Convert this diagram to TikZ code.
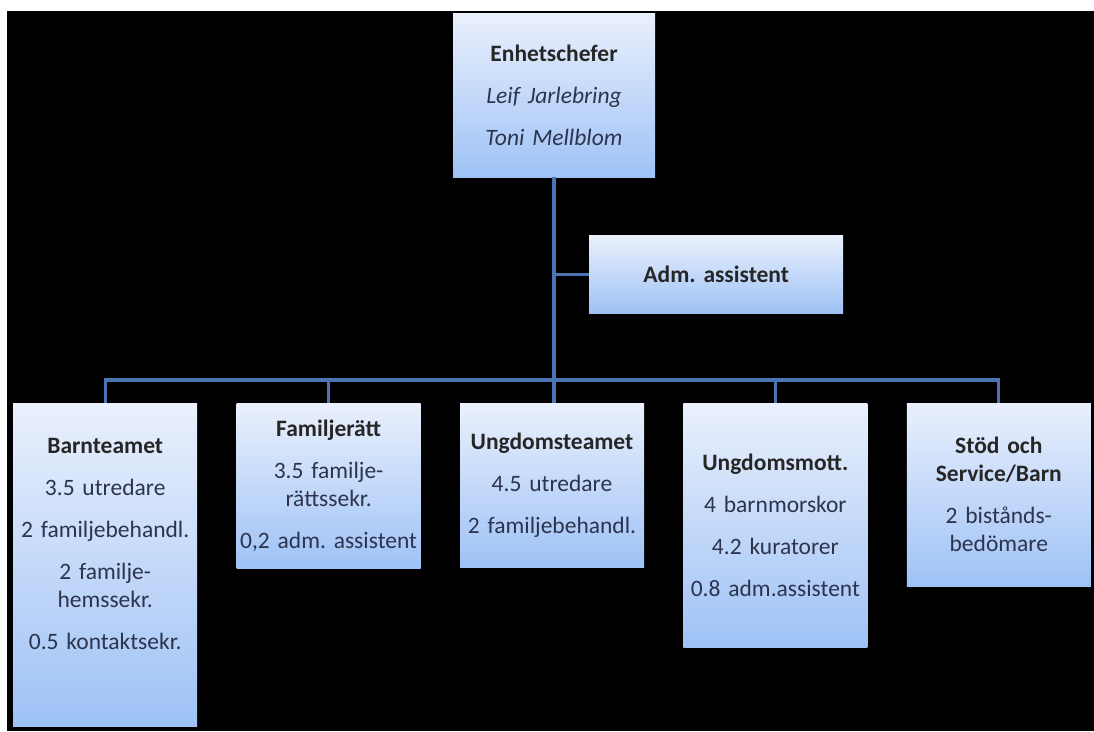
\documentclass[tikz,border=0pt]{standalone}
\usepackage{fontspec}
\setmainfont{Carlito}
\usetikzlibrary{positioning}

\definecolor{linkblue}{RGB}{74,116,178}
\definecolor{boxtop}{RGB}{234,240,252}
\definecolor{boxbottom}{RGB}{158,194,246}
\definecolor{bodytext}{RGB}{44,52,78}

\newcommand{\boxfont}{\fontsize{23.5}{28}\selectfont\frenchspacing
  \spaceskip 0.15em plus 0.05em\relax}
\newcommand{\unithead}[1]{{\bfseries\color{black!85}#1}}

\tikzset{
  orgbox/.style={top color=boxtop, bottom color=boxbottom, draw=none,
    align=center, inner xsep=2pt, inner ysep=4pt, text=bodytext,
    font=\boxfont},
  link/.style={draw=linkblue, line width=3.2pt},
}

\begin{document}
\begin{tikzpicture}[x=1pt, y=-1pt]
    % Background
    \fill[white] (0,0) rectangle (1094,731);
    \fill[black] (7,11) rectangle (1094,731);
    \useasboundingbox (0,0) rectangle (1094,731);

    % Nodes for the management
    \node[orgbox, text width=198pt, minimum height=164pt, anchor=north] (chef) at (554,13)
        {\unithead{Enhetschefer}\\[14pt]\textit{Leif Jarlebring}\\[14pt]\textit{Toni Mellblom}};
    \node[orgbox, text width=250pt, minimum height=78pt, anchor=north west] (adm) at (589,235)
        {\unithead{Adm. assistent}};

    % Nodes for the units
    \node[orgbox, text width=180pt, minimum height=323pt, anchor=north west] (barn) at (13,403)
        {\unithead{Barnteamet}\\[14pt]3.5 utredare\\[14pt]2 familjebehandl.\\[14pt]2 familje-\\hemssekr.\\[14pt]0.5 kontaktsekr.\\[14pt]\mbox{}};
    \node[orgbox, text width=180pt, minimum height=165pt, right=39pt of barn.north east, anchor=north west] (famratt)
        {\unithead{Familjerätt}\\[14pt]3.5 familje-\\rättssekr.\\[14pt]0,2 adm. assistent};
    \node[orgbox, text width=180pt, minimum height=164pt, right=39pt of famratt.north east, anchor=north west] (ungteam)
        {\unithead{Ungdomsteamet}\\[14pt]4.5 utredare\\[14pt]2 familjebehandl.};
    \node[orgbox, text width=180pt, minimum height=244pt, right=39pt of ungteam.north east, anchor=north west] (ungmott)
        {\unithead{Ungdomsmott.}\\[14pt]4 barnmorskor\\[14pt]4.2 kuratorer\\[14pt]0.8 adm.assistent};
    \node[orgbox, text width=180pt, minimum height=183pt, right=39pt of ungmott.north east, anchor=north west] (stod)
        {\unithead{Stöd och}\\\unithead{Service/Barn}\\[14pt]2 bistånds-\\bedömare};

    % Lines
    \draw[link] (chef.south) -- (chef.south |- ungteam.north);
    \draw[link] (adm.west) -- (adm.west -| chef.south);
    \draw[link] (barn.north) -- ++(0,-23) -| (stod.north);
    \foreach \unit in {famratt,ungmott}
        \draw[link] (\unit.north) -- ++(0,-23);

\end{tikzpicture}
\end{document}
